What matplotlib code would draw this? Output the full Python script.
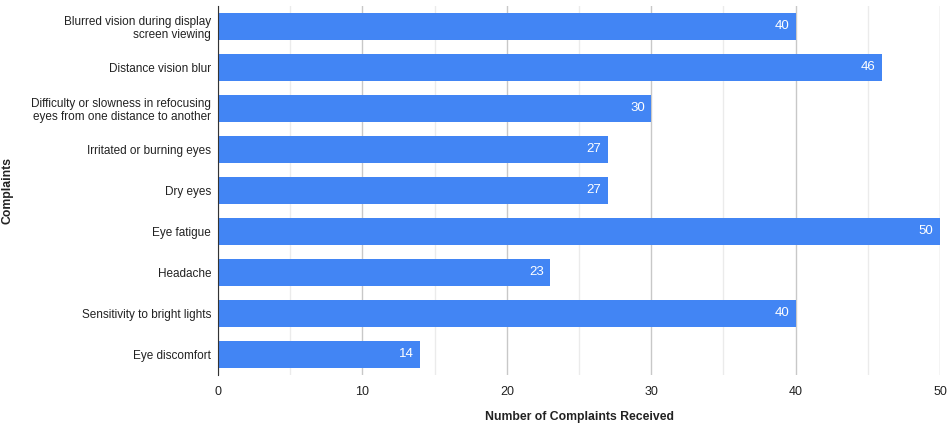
import matplotlib.pyplot as plt
from matplotlib.ticker import MultipleLocator

plt.rcParams['font.family'] = ['Liberation Sans', 'DejaVu Sans']

# Data
complaints = [
    "Blurred vision during display\nscreen viewing",
    "Distance vision blur",
    "Difficulty or slowness in refocusing\neyes from one distance to another",
    "Irritated or burning eyes",
    "Dry eyes",
    "Eye fatigue",
    "Headache",
    "Sensitivity to bright lights",
    "Eye discomfort",
]
counts = [40, 46, 30, 27, 27, 50, 23, 40, 14]

fig = plt.figure(figsize=(9.48, 4.26), dpi=100)
ax = fig.add_axes([0.23, 0.12, 0.7616, 0.866])

y = list(range(len(complaints)))
bars = ax.barh(y, counts, height=0.65, color="#4285F4", zorder=3)
ax.set_ylim(len(complaints) - 0.5, -0.5)
ax.set_yticks(y)
ax.set_yticklabels(complaints, fontsize=8.5, color="#222222", linespacing=1.15)

# value labels inside bar ends
for b, v in zip(bars, counts):
    ax.text(b.get_width() - 0.45, b.get_y() + b.get_height() / 2, str(v),
            ha="right", va="center", color="white", fontsize=9.5, zorder=4)

ax.set_xlim(0, 50)
ax.xaxis.set_major_locator(MultipleLocator(10))
ax.xaxis.set_minor_locator(MultipleLocator(5))
ax.grid(axis="x", which="major", color="#c8c8c8", linewidth=1, zorder=0)
ax.grid(axis="x", which="minor", color="#ebebeb", linewidth=1, zorder=0)
ax.tick_params(axis="x", which="both", length=0, labelsize=9, colors="#222222", pad=8)
ax.tick_params(axis="y", length=0, pad=5)

for s in ["top", "right", "bottom"]:
    ax.spines[s].set_visible(False)
ax.spines["left"].set_color("#333333")
ax.spines["left"].set_zorder(5)

fig.text(0.23 + 0.7616 / 2, 1 - 417 / 426, "Number of Complaints Received",
         fontsize=8.8, fontweight="bold", color="#222222", ha="center", va="center")
fig.text(8 / 948, 0.12 + 0.866 / 2, "Complaints", rotation=90,
         fontsize=8.8, fontweight="bold", color="#222222", ha="center", va="center")

fig.savefig("out.png", dpi=100)
